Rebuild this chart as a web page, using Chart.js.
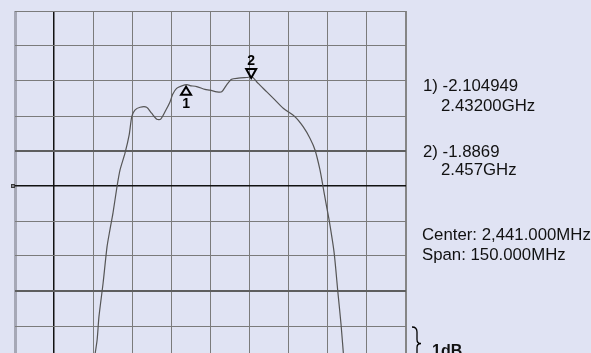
<!DOCTYPE html>
<html lang="en">
<head>
  <meta charset="utf-8" />
  <title>Filter Response</title>
  <script src="https://cdn.jsdelivr.net/npm/chart.js"></script>
  <style>
    * { box-sizing: border-box; margin: 0; padding: 0; }
    html, body { width: 591px; height: 353px; overflow: hidden; background: #e0e3f3; }
    body { position: relative; font-family: "Liberation Sans", Arial, sans-serif; color: #111; }
    #plot { position: absolute; left: 0; top: 0; }
    .readout {
      position: absolute;
      font-size: 16.8px;
      line-height: 16.8px;
      white-space: nowrap;
    }
    .scale-note { font-weight: bold; font-size: 16px; line-height: 16px; }
  </style>
</head>
<body>
  <canvas id="plot" width="591" height="362"></canvas>

  <div class="readout" style="left:423px; top:78px;" id="m1val"></div>
  <div class="readout" style="left:441px; top:98px;" id="m1freq"></div>
  <div class="readout" style="left:423px; top:144px;" id="m2val"></div>
  <div class="readout" style="left:441px; top:162px;" id="m2freq"></div>
  <div class="readout" style="left:422px; top:227px;" id="center"></div>
  <div class="readout" style="left:422px; top:247px;" id="span"></div>
  <div class="readout scale-note" style="left:432px; top:343px;" id="perdiv"></div>

  <script>
    // sweep: frequency (MHz) vs level (dB)
    const freqMHz = [
      2396.3, 2397.5, 2398.2, 2399.8, 2401.3, 2402.4, 2403.6, 2405.1, 2406.3, 2408.2,
      2409.8, 2410.8, 2412.0, 2414.0, 2416.5, 2418.4, 2420.4, 2421.9, 2423.9, 2425.5,
      2426.5, 2428.0, 2430.0, 2432.0, 2433.1, 2435.7, 2438.9, 2440.8, 2443.4, 2445.3,
      2447.2, 2449.1, 2451.7, 2454.9, 2457.0, 2459.3, 2462.6, 2465.7, 2468.9, 2473.4,
      2476.6, 2479.2, 2481.1, 2483.0, 2484.2, 2485.3, 2486.5, 2488.4, 2489.9, 2491.1,
      2492.2
    ];
    const levelDb = [
      -10.0, -9.40, -8.74, -7.77, -6.74, -6.26, -5.77, -5.03, -4.54, -4.06,
      -3.54, -3.02, -2.83, -2.75, -2.75, -2.92, -3.09, -3.09, -2.83, -2.59,
      -2.38, -2.21, -2.14, -2.105, -2.13, -2.16, -2.24, -2.26, -2.31, -2.31,
      -2.11, -1.95, -1.92, -1.90, -1.887, -2.07, -2.31, -2.54, -2.78, -3.02,
      -3.31, -3.64, -3.97, -4.54, -5.03, -5.49, -5.97, -6.89, -8.06, -8.97,
      -10.0
    ];

    const markerFreqMHz = [2432, 2457];
    const markerDb = [-2.104949, -1.8869];
    const markerNames = ['1', '2'];

    const centerMHz = 2441;
    const spanMHz = 150;
    const divMHz = 15;
    const refDb = 0;
    const dbPerDiv = 1;
    const divisions = 10;

    const readoutText = {
      m1val: '1) -2.104949',
      m1freq: '2.43200GHz',
      m2val: '2) -1.8869',
      m2freq: '2.457GHz',
      center: 'Center: 2,441.000MHz',
      span: 'Span: 150.000MHz',
      perdiv: '1dB'
    };
    Object.entries(readoutText).forEach(([id, t]) => {
      document.getElementById(id).textContent = t;
    });

    const fMin = centerMHz - spanMHz / 2;
    const fMax = centerMHz + spanMHz / 2;
    const dbMin = refDb - dbPerDiv * divisions;

    // markers, brace and reference tick drawn over the trace
    const overlay = {
      id: 'overlay',
      afterDatasetsDraw(chart) {
        const { ctx, chartArea } = chart;
        const x = chart.scales.x, y = chart.scales.y;
        ctx.save();
        ctx.strokeStyle = '#000';
        ctx.fillStyle = '#000';
        ctx.lineWidth = 2;
        ctx.lineJoin = 'miter';
        ctx.font = 'bold 14px "Liberation Sans", Arial, sans-serif';
        ctx.textAlign = 'center';
        markerFreqMHz.forEach((f, i) => {
          const px = x.getPixelForValue(f) - 1;
          const py = y.getPixelForValue(markerDb[i]);
          const up = i === 0;
          ctx.beginPath();
          if (up) {
            ctx.moveTo(px, py + 2);
            ctx.lineTo(px - 5, py + 10);
            ctx.lineTo(px + 5, py + 10);
          } else {
            ctx.moveTo(px, py + 1);
            ctx.lineTo(px - 5, py - 8);
            ctx.lineTo(px + 5, py - 8);
          }
          ctx.closePath();
          ctx.stroke();
          ctx.textBaseline = up ? 'top' : 'bottom';
          ctx.fillText(markerNames[i], px, up ? py + 12 : py - 9);
        });

        // one-division brace beside the bottom row
        const bx = chartArea.right + 6;
        const y0 = y.getPixelForValue(dbMin + dbPerDiv) + 1;
        const y1 = y.getPixelForValue(dbMin) - 1;
        const mid = (y0 + y1) / 2;
        ctx.lineWidth = 1.3;
        ctx.beginPath();
        ctx.moveTo(bx, y0);
        ctx.quadraticCurveTo(bx + 5, y0, bx + 5, y0 + 5);
        ctx.lineTo(bx + 5, mid - 4);
        ctx.quadraticCurveTo(bx + 5, mid, bx + 9, mid);
        ctx.quadraticCurveTo(bx + 5, mid, bx + 5, mid + 4);
        ctx.lineTo(bx + 5, y1 - 5);
        ctx.quadraticCurveTo(bx + 5, y1, bx, y1);
        ctx.stroke();

        // reference level tick on the left edge
        const ry = y.getPixelForValue(refDb - dbPerDiv * divisions / 2);
        ctx.fillStyle = '#8a8a94';
        ctx.strokeStyle = '#3a3a3a';
        ctx.lineWidth = 1;
        ctx.fillRect(chartArea.left - 4, ry - 2, 4, 4);
        ctx.strokeRect(chartArea.left - 3.5, ry - 1.5, 3, 3);
        ctx.restore();
      }
    };

    const zeroSize = s => { s.width = s.isHorizontal() ? s.width : 0; s.height = s.isHorizontal() ? 0 : s.height; };

    new Chart(document.getElementById('plot'), {
      type: 'line',
      data: {
        datasets: [{
          data: freqMHz.map((f, i) => ({ x: f, y: levelDb[i] })),
          borderColor: '#555555',
          borderWidth: 1.2,
          pointRadius: 0,
          tension: 0.25,
          fill: false
        }]
      },
      options: {
        responsive: false,
        animation: false,
        devicePixelRatio: 1,
        layout: { padding: { left: 15, top: 11, right: 185, bottom: 1 } },
        plugins: { legend: { display: false }, tooltip: { enabled: false } },
        scales: {
          x: {
            type: 'linear',
            min: fMin,
            max: fMax,
            afterFit: zeroSize,
            ticks: { display: false, stepSize: divMHz },
            border: { display: false },
            grid: {
              drawTicks: false,
              color: c => {
                const v = c.tick.value;
                if (v === fMin + divMHz) return '#111111';
                if (v === fMin) return '#a6a8b6';
                if (v === fMax) return '#858585';
                return '#7b7b7b';
              },
              lineWidth: c => {
                const v = c.tick.value;
                if (v === fMin) return 3;
                if (v === fMax) return 2;
                if (v === fMin + divMHz) return 1.5;
                return 1;
              }
            }
          },
          y: {
            type: 'linear',
            min: dbMin,
            max: refDb,
            afterFit: zeroSize,
            ticks: { display: false, stepSize: dbPerDiv },
            border: { display: false },
            grid: {
              drawTicks: false,
              color: c => {
                const v = c.tick.value;
                if (v === -5) return '#111111';
                if (v === -4 || v === -8) return '#5e5e5e';
                return '#7b7b7b';
              },
              lineWidth: c => {
                const v = c.tick.value;
                if (v === -5) return 1.5;
                if (v === -4 || v === -8) return 2;
                return 1;
              }
            }
          }
        }
      },
      plugins: [overlay]
    });
  </script>
</body>
</html>
